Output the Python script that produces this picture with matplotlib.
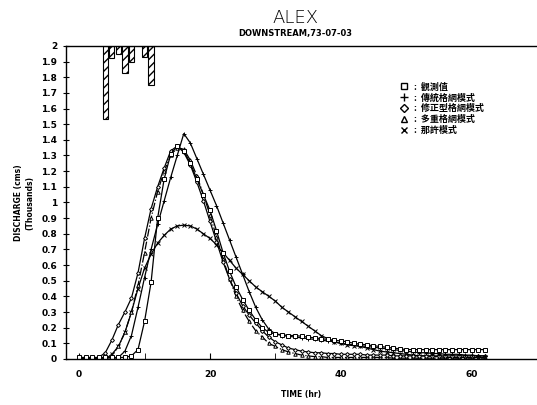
import matplotlib
matplotlib.use("Agg")
import matplotlib.pyplot as plt
from matplotlib.lines import Line2D
from matplotlib.ticker import MultipleLocator, FuncFormatter

# hours 0..62
hours = list(range(63))

observed = [0.01, 0.01, 0.01, 0.01, 0.01, 0.01, 0.01, 0.01, 0.02, 0.06,
            0.24, 0.49, 0.90, 1.15, 1.31, 1.36, 1.33, 1.25, 1.15, 1.05,
            0.95, 0.82, 0.68, 0.56, 0.46, 0.38, 0.31, 0.25, 0.20, 0.17,
            0.16, 0.155, 0.15, 0.15, 0.145, 0.14, 0.135, 0.13, 0.125, 0.12,
            0.115, 0.11, 0.10, 0.095, 0.09, 0.085, 0.08, 0.075, 0.07, 0.065,
            0.06, 0.06, 0.06, 0.06, 0.06, 0.06, 0.06, 0.06, 0.06, 0.06,
            0.06, 0.06, 0.06]

traditional = [0.0, 0.0, 0.0, 0.0, 0.0, 0.0, 0.01, 0.05, 0.15, 0.33,
               0.52, 0.70, 0.86, 1.01, 1.16, 1.30, 1.44, 1.38, 1.28, 1.18,
               1.08, 0.98, 0.87, 0.76, 0.65, 0.54, 0.43, 0.33, 0.25, 0.19,
               0.16, 0.15, 0.145, 0.14, 0.135, 0.13, 0.125, 0.12, 0.115, 0.11,
               0.10, 0.095, 0.09, 0.085, 0.08, 0.075, 0.07, 0.065, 0.06, 0.055,
               0.05, 0.045, 0.04, 0.04, 0.035, 0.035, 0.03, 0.03, 0.03, 0.025,
               0.025, 0.02, 0.02]

modified = [0.0, 0.0, 0.0, 0.01, 0.04, 0.12, 0.22, 0.30, 0.39, 0.55,
            0.77, 0.96, 1.10, 1.22, 1.33, 1.36, 1.32, 1.24, 1.13, 1.01,
            0.88, 0.75, 0.62, 0.51, 0.42, 0.34, 0.28, 0.23, 0.18, 0.14,
            0.11, 0.09, 0.07, 0.06, 0.05, 0.045, 0.04, 0.04, 0.035, 0.035,
            0.03, 0.03, 0.03, 0.03, 0.025, 0.025, 0.025, 0.025, 0.02, 0.02,
            0.02, 0.02, 0.02, 0.02, 0.02, 0.02, 0.02, 0.02, 0.02, 0.02,
            0.02, 0.02, 0.02]

multigrid = [0.0, 0.0, 0.0, 0.0, 0.0, 0.02, 0.08, 0.17, 0.30, 0.47,
             0.68, 0.90, 1.07, 1.20, 1.30, 1.35, 1.34, 1.27, 1.17, 1.05,
             0.92, 0.78, 0.64, 0.51, 0.40, 0.31, 0.24, 0.18, 0.14, 0.10,
             0.08, 0.06, 0.045, 0.035, 0.025, 0.02, 0.015, 0.015, 0.01, 0.01,
             0.01, 0.01, 0.01, 0.01, 0.01, 0.01, 0.01, 0.01, 0.005, 0.005,
             0.005, 0.005, 0.005, 0.005, 0.005, 0.005, 0.005, 0.005, 0.005, 0.005,
             0.005, 0.005, 0.005]

nash = [0.0, 0.0, 0.0, 0.0, 0.0, 0.03, 0.08, 0.17, 0.30, 0.45,
        0.58, 0.67, 0.74, 0.79, 0.83, 0.85, 0.855, 0.85, 0.83, 0.80,
        0.77, 0.73, 0.68, 0.63, 0.58, 0.54, 0.50, 0.46, 0.43, 0.40,
        0.37, 0.33, 0.30, 0.27, 0.24, 0.21, 0.18, 0.15, 0.13, 0.11,
        0.10, 0.09, 0.085, 0.08, 0.07, 0.06, 0.05, 0.045, 0.04, 0.035,
        0.03, 0.025, 0.02, 0.02, 0.015, 0.015, 0.01, 0.01, 0.01, 0.01,
        0.01, 0.01, 0.01]

# hanging bars at the top of the plot
rain_hours = [4, 5, 6, 7, 8, 10, 11]
rain_depth = [0.47, 0.08, 0.05, 0.17, 0.10, 0.07, 0.25]

labels = [":  觀測值", ":  傳統格網模式", ":  修正型格網模式", ":  多重格網模式", ":  那許模式"]

plt.rcParams['font.family'] = ['DejaVu Sans']
fig = plt.figure(figsize=(5.37, 4.05), dpi=100)
ax = fig.add_axes([0.123, 0.1136, 0.877, 0.773])

lk = dict(color="black", lw=0.9, mfc="white", mec="black", mew=0.7)
ax.plot(hours, nash, marker="x", ms=2.5, **lk)
ax.plot(hours, multigrid, marker="^", ms=2.5, ls="-.", **lk)
ax.plot(hours, modified, marker="D", ms=2, **lk)
ax.plot(hours, traditional, marker="+", ms=3, **lk)
ax.plot(hours, observed, marker="s", ms=3, **lk)

ax.bar(rain_hours, rain_depth, bottom=[2 - d for d in rain_depth], width=0.8,
       fill=False, hatch="////", edgecolor="black", lw=0.8)

ax.set_xlim(-2, 70)
ax.set_ylim(0, 2)
ax.spines["right"].set_visible(False)
for s in ax.spines.values():
    s.set_linewidth(1.0)

ax.xaxis.set_major_locator(MultipleLocator(20))
ax.xaxis.set_minor_locator(MultipleLocator(10))
ax.yaxis.set_major_locator(MultipleLocator(0.1))
ax.yaxis.set_major_formatter(FuncFormatter(lambda v, p: f"{v:.1f}".rstrip("0").rstrip(".")))
ax.tick_params(axis="x", which="both", direction="in", length=4, top=False,
               labelsize=6.5, pad=8)
ax.tick_params(axis="y", direction="inout", length=5, right=False, labelsize=6.5, pad=4)
for t in ax.get_xticklabels() + ax.get_yticklabels():
    t.set_fontweight("bold")

fig.text(0.55, 0.955, "ALEX", ha="center", va="center", fontsize=13, fontweight="light")
fig.text(0.55, 0.918, "DOWNSTREAM,73-07-03", ha="center", va="center", fontsize=6,
         fontweight="bold")
ax.set_xlabel("TIME (hr)", fontsize=5.5, fontweight="bold", labelpad=8)
fig.text(0.034, 0.5, "DISCHARGE (cms)", rotation=90, ha="center", va="center",
         fontsize=5.5, fontweight="bold")
fig.text(0.056, 0.5, "(Thousands)", rotation=90, ha="center", va="center",
         fontsize=5.5, fontweight="bold")

handles = [
    Line2D([], [], ls="none", marker="s", ms=4, mfc="white", mec="black"),
    Line2D([], [], ls="none", marker="+", ms=6, mec="black"),
    Line2D([], [], ls="none", marker="D", ms=4, mfc="white", mec="black"),
    Line2D([], [], ls="none", marker="^", ms=5, mfc="white", mec="black"),
    Line2D([], [], ls="none", marker="x", ms=5, mec="black"),
]
leg = ax.legend(handles, labels, loc="upper left", bbox_to_anchor=(0.69, 0.91),
                frameon=False, handlelength=1.0, handletextpad=0.6,
                labelspacing=0.2, prop={"family": ["Noto Sans CJK TC", "DejaVu Sans"],
                                         "size": 6.5, "weight": "bold"})

fig.savefig("out.png", dpi=100)
